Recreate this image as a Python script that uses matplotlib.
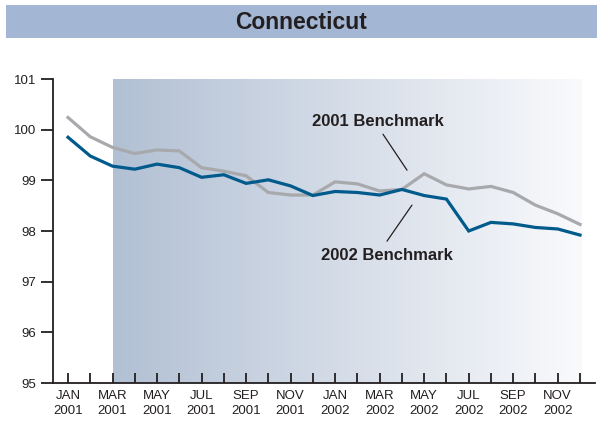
import numpy as np
import matplotlib
matplotlib.use("Agg")
import matplotlib.pyplot as plt
from matplotlib.patches import Rectangle

plt.rcParams['font.family'] = ['Liberation Sans', 'DejaVu Sans']

months = ["JAN", "FEB", "MAR", "APR", "MAY", "JUN", "JUL", "AUG", "SEP", "OCT", "NOV", "DEC"]
years = ["2001", "2002"]
periods = [f"{m}\n{y}" for y in years for m in months]

bench_2001 = [100.24, 99.86, 99.65, 99.53, 99.60, 99.58, 99.25, 99.18, 99.09, 98.76, 98.71, 98.71,
              98.97, 98.93, 98.79, 98.82, 99.13, 98.91, 98.83, 98.88, 98.76, 98.51, 98.34, 98.13]
bench_2002 = [99.85, 99.48, 99.28, 99.22, 99.32, 99.25, 99.06, 99.11, 98.94, 99.01, 98.89, 98.70,
              98.78, 98.76, 98.71, 98.82, 98.70, 98.63, 98.00, 98.17, 98.14, 98.07, 98.04, 97.92]
yticks = [95, 96, 97, 98, 99, 100, 101]
title = "Connecticut"

W, H = 597, 424
fig = plt.figure(figsize=(W / 100, H / 100), dpi=100)

# title banner
banner = fig.add_axes([6 / W, 1 - 37.5 / H, 1 - 6 / W, 32.5 / H])
banner.set_axis_off()
banner.add_patch(Rectangle((0, 0), 1, 1, transform=banner.transAxes, color="#a3b6d3"))
banner.text(0.5, 0.47, title, ha="center", va="center", fontsize=16.5, fontweight="bold",
            color="#231f20", transform=banner.transAxes)

# main axes
x0, x1 = 53, 595
ytop, ybot = 79, 383
ax = fig.add_axes([x0 / W, 1 - ybot / H, (x1 - x0) / W, (ybot - ytop) / H])
x = np.arange(len(periods))

# gradient shading
grad = np.linspace(0, 1, 256)
c0 = np.array([178, 192, 212]) / 255
c1 = np.array([249, 250, 252]) / 255
img = c0[None, :] + (c1 - c0)[None, :] * grad[:, None]
img = img[None, :, :]
ax.imshow(img, extent=[2, 23.05, 95, 101], aspect="auto", zorder=0, interpolation="bilinear")
ax.set_xlim(-0.674, 23.674)
ax.set_ylim(95, 101)

ax.plot(x, bench_2001, color="#a7a9ac", lw=2.3, zorder=2, solid_joinstyle="miter")
ax.plot(x, bench_2002, color="#005a8c", lw=2.3, zorder=3, solid_joinstyle="miter")

for s in ["top", "right"]:
    ax.spines[s].set_visible(False)
for s in ["left", "bottom"]:
    ax.spines[s].set_linewidth(1.3)
    ax.spines[s].set_color("#231f20")

ax.set_yticks(yticks)
ax.set_yticklabels([str(v) for v in yticks], fontsize=9.5, color="#231f20")
ax.tick_params(axis="y", direction="out", length=9, width=1.3, color="#231f20", pad=3)

ax.set_xticks(x)
ax.set_xticklabels([p if i % 2 == 0 else "" for i, p in enumerate(periods)],
                   fontsize=9.5, color="#231f20", linespacing=1.3)
ax.tick_params(axis="x", direction="in", length=7, width=1.3, color="#231f20", pad=5)

# annotations
ax.annotate("", xy=(15.23, 99.2), xytext=(14.15, 99.91),
            arrowprops=dict(arrowstyle="-", color="#231f20", lw=0.9,
                            shrinkA=0, shrinkB=0))
ax.text(13.9, 100.17, "2001 Benchmark", ha="center", va="center", fontsize=12,
        fontweight="bold", color="#231f20")
ax.annotate("", xy=(15.45, 98.51), xytext=(14.33, 97.8),
            arrowprops=dict(arrowstyle="-", color="#231f20", lw=0.9,
                            shrinkA=0, shrinkB=0))
ax.text(14.31, 97.52, "2002 Benchmark", ha="center", va="center", fontsize=12,
        fontweight="bold", color="#231f20")

fig.savefig("out.png", dpi=100)
